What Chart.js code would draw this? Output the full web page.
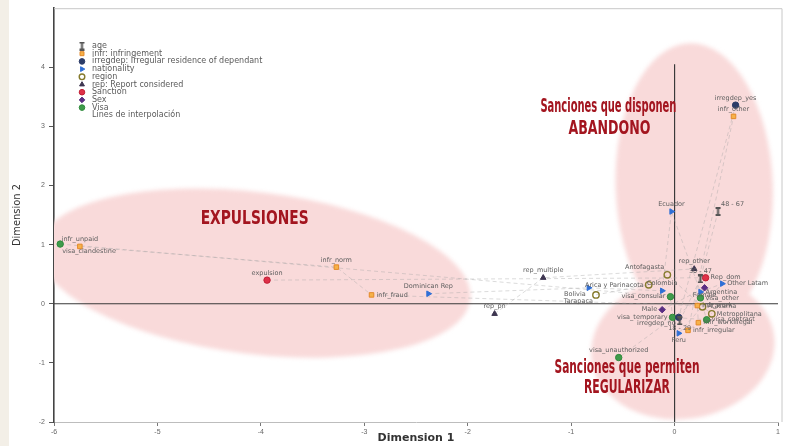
<!DOCTYPE html>
<html lang="es">
<head>
<meta charset="UTF-8" />
<title>MCA - Dimension 1 / Dimension 2</title>
<script src="https://cdn.jsdelivr.net/npm/chart.js@4.4.1/dist/chart.umd.min.js"></script>
<style>
  body { margin: 0; background: #fff; }
  #wrap {
    width: 787px; height: 446px; position: relative;
    background: linear-gradient(to right, #f3efe7 0, #f3efe7 9px, #fff 9px);
  }
</style>
</head>
<body>
<div id="wrap"><canvas id="mca" width="787" height="446"></canvas></div>
<script>
// axis ticks
const xTicks = [-6, -5, -4, -3, -2, -1, 0, 1];
const yTicks = [-2, -1, 0, 1, 2, 3, 4];

// category coordinates (Dimension 1, Dimension 2) for each variable
const ageLabels = ["48 - 67", "30 - 47", "18 - 29"];
const ageDim1 = [0.42, 0.25, 0.05];
const ageDim2 = [1.56, 0.42, -0.29];

const infrLabels = ["infr_unpaid", "infr_norm", "infr_fraud", "infr_work", "infr_workillegal", "infr_irregular", "infr_other"];
const infrDim1 = [-5.75, -3.27, -2.93, 0.22, 0.23, 0.13, 0.57];
const infrDim2 = [0.97, 0.62, 0.15, -0.03, -0.32, -0.45, 3.17];

const irregdepLabels = ["irregdep_yes", "irregdep_no"];
const irregdepDim1 = [0.59, 0.04];
const irregdepDim2 = [3.36, -0.23];

const nationalityLabels = ["Dominican Rep", "Bolivia", "Colombia", "Ecuador", "Argentina", "Other Latam", "Peru"];
const nationalityDim1 = [-2.38, -0.83, -0.12, -0.03, 0.25, 0.46, 0.04];
const nationalityDim2 = [0.17, 0.27, 0.22, 1.56, 0.20, 0.34, -0.50];

const regionLabels = ["Tarapaca", "Arica y Parinacota", "Antofagasta", "Atacama", "Metropolitana"];
const regionDim1 = [-0.76, -0.25, -0.07, 0.27, 0.36];
const regionDim2 = [0.15, 0.32, 0.49, -0.05, -0.17];

const repLabels = ["rep_pn", "rep_multiple", "rep_other"];
const repDim1 = [-1.74, -1.27, 0.19];
const repDim2 = [-0.17, 0.44, 0.59];

const sanctionLabels = ["expulsion", "Rep_dom"];
const sanctionDim1 = [-3.94, 0.30];
const sanctionDim2 = [0.40, 0.44];

const sexLabels = ["Male", "Female"];
const sexDim1 = [-0.12, 0.29];
const sexDim2 = [-0.10, 0.27];

const visaLabels = ["visa_clandestine", "visa_consular", "visa_temporary", "visa_contract", "visa_other", "visa_unauthorized"];
const visaDim1 = [-5.94, -0.04, -0.02, 0.31, 0.25, -0.54];
const visaDim2 = [1.01, 0.12, -0.23, -0.27, 0.10, -0.91];

const legendLabels = ["age", "infr: infringement", "irregdep: Irregular residence of dependant", "nationality",
  "region", "rep: Report considered", "Sanction", "Sex", "Visa", "Lines de interpolación"];

// where each point label sits (default: above)
const labelPlace = {
  "48 - 67": "aboveRight", "18 - 29": "below",
  "infr_fraud": "right", "infr_work": "right", "infr_workillegal": "right", "infr_irregular": "right",
  "irregdep_no": "belowLeft",
  "Bolivia": "belowLeft", "Argentina": "right", "Other Latam": "right", "Peru": "below",
  "Tarapaca": "belowLeft", "Arica y Parinacota": "left", "Antofagasta": "aboveLeft",
  "Atacama": "right", "Metropolitana": "right",
  "Rep_dom": "right", "Male": "left", "Female": "below",
  "visa_clandestine": "belowRight", "visa_consular": "left", "visa_temporary": "left",
  "visa_contract": "right", "visa_other": "right"
};

// I-shaped marker for age
const ageMark = document.createElement("canvas");
ageMark.width = 7; ageMark.height = 9;
(function () {
  const c = ageMark.getContext("2d");
  c.fillStyle = "#555";
  c.fillRect(1, 0, 5, 2); c.fillRect(2.5, 0, 2, 9); c.fillRect(1, 7, 5, 2);
})();

const groups = [
  { labels: ageLabels, d1: ageDim1, d2: ageDim2, style: { pointStyle: ageMark, backgroundColor: "#555", borderColor: "#555" } },
  { labels: infrLabels, d1: infrDim1, d2: infrDim2, style: { pointStyle: "rect", backgroundColor: "#f6b24a", borderColor: "#e4892a" } },
  { labels: irregdepLabels, d1: irregdepDim1, d2: irregdepDim2, style: { pointStyle: "circle", backgroundColor: "#2c3c68", borderColor: "#2c3c68" } },
  { labels: nationalityLabels, d1: nationalityDim1, d2: nationalityDim2, style: { pointStyle: "triangle", rotation: 90, backgroundColor: "#2f6fd6", borderColor: "#2f6fd6" } },
  { labels: regionLabels, d1: regionDim1, d2: regionDim2, style: { pointStyle: "circle", backgroundColor: "rgba(0,0,0,0)", borderColor: "#857a2c", borderWidth: 1.4 } },
  { labels: repLabels, d1: repDim1, d2: repDim2, style: { pointStyle: "triangle", backgroundColor: "#3d3550", borderColor: "#3d3550" } },
  { labels: sanctionLabels, d1: sanctionDim1, d2: sanctionDim2, style: { pointStyle: "circle", backgroundColor: "#df3048", borderColor: "#c11f36" } },
  { labels: sexLabels, d1: sexDim1, d2: sexDim2, style: { pointStyle: "rectRot", backgroundColor: "#5a2d82", borderColor: "#5a2d82" } },
  { labels: visaLabels, d1: visaDim1, d2: visaDim2, style: { pointStyle: "circle", backgroundColor: "#3f9b4b", borderColor: "#2f8a3b" } }
];

// pink zones and their titles
const zones = [
  { cx: -4.06, cy: 0.52, rx: 2.10, ry: 1.37, rot: 7 },
  { cx: 0.19, cy: 1.98, rx: 0.76, ry: 2.43, rot: -2 },
  { cx: 0.08, cy: -0.74, rx: 0.89, ry: 1.21, rot: -8 }
];
const notes = [
  { text: "EXPULSIONES", x: -4.06, y: 1.43, w: 108 },
  { text: "Sanciones que disponen", x: -0.64, y: 3.33, w: 136 },
  { text: "ABANDONO", x: -0.63, y: 2.96, w: 82 },
  { text: "Sanciones que permiten", x: -0.46, y: -1.09, w: 145 },
  { text: "REGULARIZAR", x: -0.46, y: -1.43, w: 86 }
];

const datasets = [];
groups.forEach((g) => {
  const pts = g.d1.map((v, i) => ({ x: v, y: g.d2[i] }));
  datasets.push({
    data: pts, showLine: true, pointRadius: 0, borderColor: "rgba(165,165,165,0.4)",
    borderWidth: 1, borderDash: [4, 3], order: 3
  });
  datasets.push(Object.assign({
    data: pts, names: g.labels, pointRadius: 3.2, borderWidth: 1, order: 1
  }, g.style));
});

const zonePlugin = {
  id: "zones",
  beforeDatasetsDraw(chart) {
    const { ctx, scales: { x, y }, chartArea: a } = chart;
    const ux = x.getPixelForValue(1) - x.getPixelForValue(0);
    const uy = y.getPixelForValue(0) - y.getPixelForValue(1);
    ctx.save();
    ctx.beginPath();
    ctx.rect(a.left, a.top, a.right - a.left, a.bottom - a.top);
    ctx.clip();
    ctx.filter = "blur(2px)";
    ctx.fillStyle = "#f9dada";
    ctx.beginPath();
    zones.forEach((z) => {
      const cx = x.getPixelForValue(z.cx), cy = y.getPixelForValue(z.cy);
      ctx.moveTo(cx + z.rx * ux * Math.cos(z.rot * Math.PI / 180), cy + z.rx * ux * Math.sin(z.rot * Math.PI / 180));
      ctx.ellipse(cx, cy, z.rx * ux, z.ry * uy, z.rot * Math.PI / 180, 0, Math.PI * 2);
    });
    ctx.fill();
    ctx.filter = "none";
    // zero lines
    ctx.strokeStyle = "#3a3a3a";
    ctx.lineWidth = 1.2;
    ctx.beginPath();
    ctx.moveTo(a.left, y.getPixelForValue(0));
    ctx.lineTo(a.right + 4, y.getPixelForValue(0));
    ctx.moveTo(x.getPixelForValue(0), y.getPixelForValue(4.05));
    ctx.lineTo(x.getPixelForValue(0), a.bottom);
    ctx.stroke();
    ctx.restore();
    // frame
    ctx.save();
    ctx.strokeStyle = "#c8c8c8";
    ctx.lineWidth = 1;
    ctx.beginPath();
    ctx.moveTo(a.left, a.top + 0.5);
    ctx.lineTo(a.right + 4, a.top + 0.5);
    ctx.lineTo(a.right + 4, a.bottom);
    ctx.stroke();
    ctx.restore();
  },
  afterDatasetsDraw(chart) {
    const { ctx, scales: { x, y } } = chart;
    const offs = {
      above: [0, -4, "center", "bottom"], below: [0, 4, "center", "top"],
      left: [-5, 0, "right", "middle"], right: [5, 0, "left", "middle"],
      aboveRight: [3, -4, "left", "bottom"], belowRight: [2, 4, "left", "top"],
      aboveLeft: [-3, -4, "right", "bottom"], belowLeft: [-3, 3, "right", "top"]
    };
    ctx.save();
    ctx.font = "6.5px 'DejaVu Sans', sans-serif";
    ctx.fillStyle = "#606060";
    chart.data.datasets.forEach((ds, i) => {
      if (!ds.names) return;
      chart.getDatasetMeta(i).data.forEach((el, j) => {
        const name = ds.names[j];
        const o = offs[labelPlace[name] || "above"];
        ctx.textAlign = o[2];
        ctx.textBaseline = o[3];
        ctx.fillText(name, el.x + o[0], el.y + o[1]);
      });
    });
    ctx.restore();

    // zone titles
    ctx.save();
    ctx.fillStyle = "#a3151f";
    ctx.textAlign = "center";
    ctx.textBaseline = "middle";
    ctx.font = "bold 19px 'DejaVu Sans Condensed', 'Liberation Sans Narrow', sans-serif";
    notes.forEach((n) => {
      ctx.fillText(n.text, x.getPixelForValue(n.x), y.getPixelForValue(n.y), n.w);
    });
    ctx.restore();

    // legend
    ctx.save();
    ctx.font = "8px 'DejaVu Sans', sans-serif";
    ctx.textBaseline = "middle";
    ctx.textAlign = "left";
    legendLabels.forEach((txt, i) => {
      const ly = 46 + i * 7.7;
      const g = groups[i];
      if (g) {
        ctx.fillStyle = g.style.backgroundColor;
        ctx.strokeStyle = g.style.borderColor;
        ctx.lineWidth = g.style.borderWidth || 1;
        Chart.helpers.drawPoint(ctx, { pointStyle: g.style.pointStyle, radius: 2.8, rotation: g.style.rotation || 0, borderWidth: ctx.lineWidth }, 82, ly);
      }
      ctx.fillStyle = "#5a5a5a";
      ctx.fillText(txt, 92, ly);
    });
    ctx.restore();
  }
};

new Chart(document.getElementById("mca"), {
  type: "scatter",
  data: { datasets },
  options: {
    responsive: false,
    animation: false,
    devicePixelRatio: 1,
    layout: { padding: { top: 5, right: 9, bottom: 0, left: 0 } },
    plugins: { legend: { display: false }, tooltip: { enabled: false } },
    scales: {
      x: {
        type: "linear", min: -6, max: 1,
        afterBuildTicks: (s) => { s.ticks = xTicks.map((v) => ({ value: v })); },
        afterFit: (s) => { s.height = 24; },
        grid: { drawOnChartArea: false, drawTicks: true, tickLength: 4, color: "#777" },
        border: { color: "#bdbdbd", width: 1 },
        ticks: { font: { size: 7 }, color: "#666", padding: 2, maxRotation: 0 },
        title: { display: true, text: "Dimension 1", font: { size: 11, weight: "bold", family: "'DejaVu Sans', sans-serif" }, color: "#333", padding: { top: 0, bottom: 1 } }
      },
      y: {
        type: "linear", min: -2, max: 5,
        afterBuildTicks: (s) => { s.ticks = yTicks.map((v) => ({ value: v })); },
        afterFit: (s) => { s.width = 54; },
        grid: { drawOnChartArea: false, drawTicks: true, tickLength: 5, color: "#555" },
        border: { color: "#444", width: 1.6 },
        ticks: { font: { size: 7 }, color: "#666", padding: 4 },
        title: { display: true, text: "Dimension 2", font: { size: 11, family: "'DejaVu Sans Condensed', sans-serif" }, color: "#333", padding: { top: 11, bottom: 0 } }
      }
    }
  },
  plugins: [zonePlugin]
});
</script>
</body>
</html>
